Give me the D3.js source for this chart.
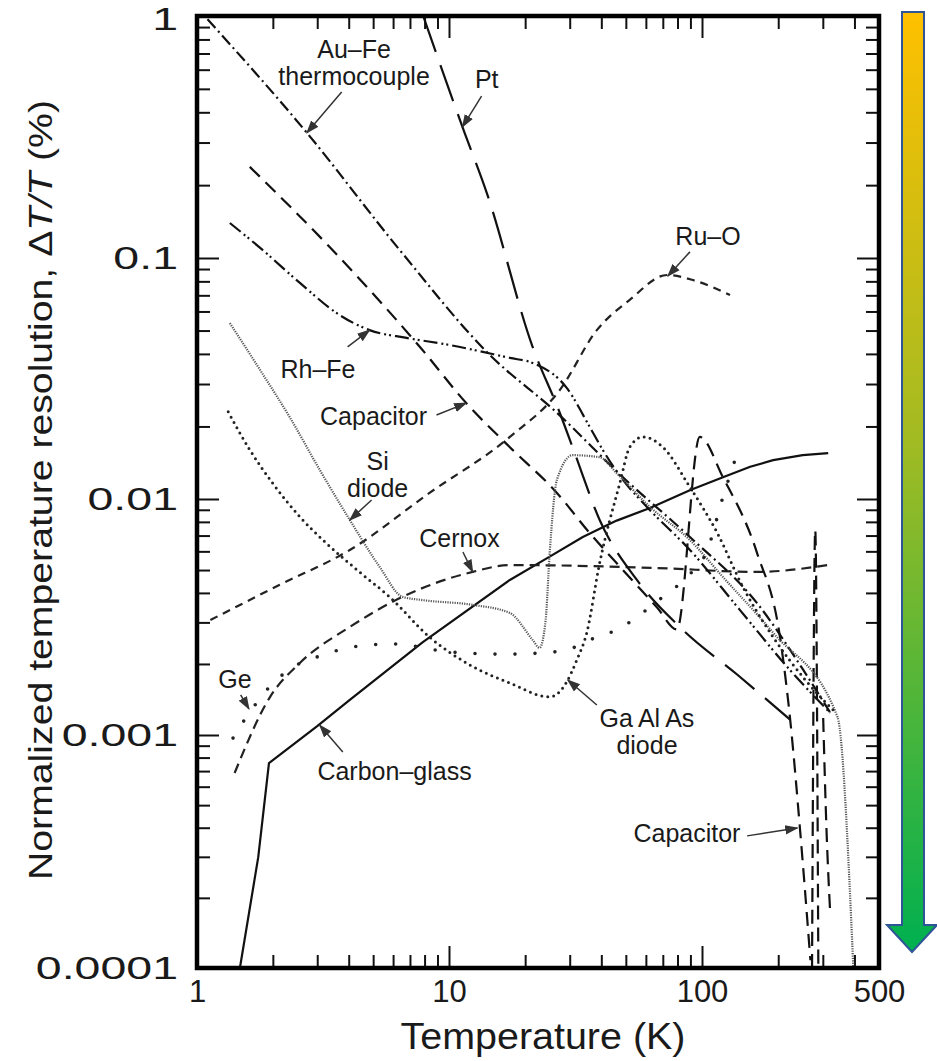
<!DOCTYPE html>
<html>
<head>
<meta charset="utf-8">
<script src="https://cdn.jsdelivr.net/npm/d3@7"></script>
<style>
  body { margin: 0; background: #fff; }
  svg text { font-family: "Liberation Sans", Arial, Helvetica, sans-serif; fill: #1a1a1a; }
</style>
</head>
<body>
<svg id="chart" width="937" height="1061"></svg>
<script>
// ---- data: [temperature K, dT/T %] ----
var auFe   = [[1.1,0.97],[2.73,0.329],[6.37,0.108],[14.5,0.0396],[26.7,0.0228],[48.7,0.0123],[89.6,0.0069],[165,0.00362],[250,0.0019],[320,0.00125]];
var rhFe   = [[1.35,0.1395],[1.82,0.108],[2.56,0.0788],[3.68,0.058],[4.84,0.0502],[6.79,0.0466],[10,0.0436],[17.4,0.0385],[21.4,0.0367],[29.2,0.0289],[36,0.0199],[40.5,0.016],[48.7,0.012],[60.6,0.00925],[89.6,0.00608],[141,0.00339],[223,0.00188],[321,0.00124]];
var pt     = [[7.9,1.0],[11.3,0.348],[14.1,0.186],[21.4,0.0428],[27.4,0.0228],[31.4,0.0155],[39.4,0.00815],[55.3,0.00454],[84,0.00279],[138,0.0018],[223,0.00116]];
var ruO    = [[1.13,0.00307],[2.13,0.00433],[4.04,0.00608],[8.37,0.0106],[17.4,0.0181],[27.4,0.0283],[38.4,0.0502],[51.8,0.067],[72.7,0.085],[92,0.081],[129,0.0702]];
var capLow = [[1.62,0.238],[3.36,0.111],[7.85,0.0415],[11.7,0.025],[17.4,0.0164],[26.7,0.0106],[36,0.00717],[48.7,0.005],[66.3,0.00348],[79.6,0.0028],[98,0.0181],[121,0.0123],[165,0.0059],[204,0.00253],[223,0.00116],[244,0.00039],[268,0.000108]];
var capHigh= [[272,0.0001],[280,0.0074],[288,0.0001]];
var capEnd = [[301,0.00118],[310,0.0004],[321,0.00017]];
var cernox = [[1.41,0.000687],[1.95,0.00145],[2.56,0.00202],[4.04,0.00287],[6.54,0.00385],[12.4,0.00491],[17.4,0.00525],[66.3,0.0051],[165,0.00491],[315,0.00525]];
var carbon = [[1.48,0.0001],[1.75,0.000299],[1.93,0.000758],[3.0,0.00109],[4.04,0.00141],[7.85,0.00247],[17.4,0.00454],[25,0.0057],[33.8,0.0069],[46,0.0081],[62.3,0.00916],[90,0.0109],[121,0.0123],[155,0.0136],[191,0.0145],[250,0.0152],[315,0.0155]];
var siDiode= [[1.35,0.0537],[1.78,0.0343],[2.33,0.0219],[3.07,0.0132],[4.04,0.00815],[5.31,0.00515],[6.54,0.00385],[7.85,0.00373],[12.4,0.00356],[17.4,0.00329],[21.4,0.00253],[22.8,0.00234],[24.1,0.00307],[25,0.0059],[26.7,0.012],[30.8,0.0152],[39.4,0.0149],[46,0.0128],[62.3,0.00925],[89.6,0.0067],[121,0.00467],[191,0.00271],[343,0.00119],[396,0.0001]];
var gaAlAs = [[1.33,0.023],[1.62,0.016],[2.0,0.0116],[2.56,0.0084],[3.16,0.0067],[4.42,0.0049],[5.81,0.00385],[8.37,0.0026],[12.1,0.00198],[17.4,0.00166],[25,0.00145],[29.2,0.00168],[32,0.00208],[35,0.0027],[39.4,0.00536],[47.3,0.0116],[51.8,0.0164],[58.4,0.0181],[70.1,0.0164],[89.6,0.0112],[115,0.00717],[145,0.00424],[191,0.0026],[256,0.00171],[336,0.00125]];
var ge     = [[1.39,0.00097],[1.52,0.00113],[1.7,0.00134],[1.89,0.00155],[2.13,0.00176],[2.49,0.00198],[2.99,0.00214],[4.15,0.00236],[5.97,0.00243],[10,0.00225],[16.9,0.0022],[28.2,0.00227],[36,0.00253],[46,0.00279],[70.1,0.00385],[87.2,0.00467],[105,0.00608],[121,0.0102],[135,0.0145]];

var xMajor = [1, 10, 100, 500];
var xMinor = [2,3,4,5,6,7,8,9,20,30,40,50,60,70,80,90,200,300,400];
var yMajor = [0.0001, 0.001, 0.01, 0.1, 1];
var yMinor = d3.range(-4, 0).flatMap(function(e){ return d3.range(2,10).map(function(m){ return m*Math.pow(10,e); }); });
var yLabels = ["0.0001","0.001","0.01","0.1","1"];

// annotation labels: text lines, anchor (T, value of first baseline), arrow [T0,v0,T1,v1]
var labels = [
  {lines:["Au\u2013Fe","thermocouple"], t:4.2,  v:0.671,    arrow:[3.75,0.485,2.73,0.329]},
  {lines:["Pt"],                        t:14.1, v:0.504,    arrow:[13.45,0.467,11.3,0.348]},
  {lines:["Ru\u2013O"],                 t:105.6,v:0.113,    arrow:[89.6,0.106,73.3,0.0842]},
  {lines:["Rh\u2013Fe"],                t:3.02, v:0.0318,   arrow:[3.96,0.0428,4.84,0.0502]},
  {lines:["Capacitor"],                 t:5.02, v:0.0203,   arrow:[8.92,0.0223,11.7,0.025]},
  {lines:["Si","diode"],                t:5.21, v:0.0132,   arrow:[4.93,0.0099,4.04,0.00815]},
  {lines:["Cernox"],                    t:11.0, v:0.00627,  arrow:[11.35,0.00596,12.4,0.00491]},
  {lines:["Ge"],                        t:1.415,v:0.00158,  arrow:[1.49,0.00148,1.607,0.00129]},
  {lines:["Carbon\u2013glass"],         t:6.08, v:0.000641, arrow:[3.79,0.000845,3.07,0.0011]},
  {lines:["Ga\u2009Al\u2009As","diode"],t:60.6, v:0.00108,  arrow:[38.4,0.00134,29.5,0.00171]},
  {lines:["Capacitor"],                 t:87.2, v:0.000347, arrow:[150.7,0.000369,238,0.000399]}
];

// ---- layout ----
var svg = d3.select('#chart');
var x = d3.scaleLog().domain([1,10,100,500]).range([197,449,702,879]);
var y = d3.scaleLog().domain([0.0001,0.001,0.01,0.1,1]).range([968,735,499,258,16]);

var defs = svg.append('defs');
defs.append('clipPath').attr('id','plot')
  .append('rect').attr('x',197).attr('y',16).attr('width',682).attr('height',952);
defs.append('marker').attr('id','head')
  .attr('viewBox','0 0 10 10').attr('refX',9).attr('refY',5)
  .attr('markerWidth',9).attr('markerHeight',9).attr('orient','auto')
  .append('path').attr('d','M0,1.5L10,5L0,8.5Z').attr('fill','#333');
var grad = defs.append('linearGradient').attr('id','arrowGrad')
  .attr('x1',0).attr('y1',0).attr('x2',0).attr('y2',1);
grad.append('stop').attr('offset','0%').attr('stop-color','#ffc000');
grad.append('stop').attr('offset','45%').attr('stop-color','#a3bb22');
grad.append('stop').attr('offset','100%').attr('stop-color','#00b050');

// ticks on all four sides, pointing inwards
function tickAxis(axis, vals, size, tr, fmt, pad){
  var g = svg.append('g').attr('transform',tr)
    .call(axis.tickValues(vals).tickSize(size).tickSizeOuter(0).tickPadding(pad||3).tickFormat(fmt||''));
  g.select('.domain').remove();
  g.selectAll('.tick line').attr('stroke','#111').attr('stroke-width',2);
  return g;
}
var xb = tickAxis(d3.axisBottom(x), xMajor, -22, 'translate(0,968)', d3.format('d'), 12);
tickAxis(d3.axisBottom(x), xMinor, -13, 'translate(0,968)');
tickAxis(d3.axisTop(x), xMajor, -22, 'translate(0,16)');
tickAxis(d3.axisTop(x), xMinor, -13, 'translate(0,16)');
var yl = tickAxis(d3.axisLeft(y), yMajor, -22, 'translate(197,0)', function(d,i){ return yLabels[i]; }, 18);
tickAxis(d3.axisLeft(y), yMinor, -13, 'translate(197,0)');
tickAxis(d3.axisRight(y), yMajor, -22, 'translate(879,0)');
tickAxis(d3.axisRight(y), yMinor, -13, 'translate(879,0)');
xb.selectAll('text').attr('font-size',31).attr('fill','#1a1a1a').style('font-family','"Liberation Sans", Arial, sans-serif');
// the y tick labels in the figure are set in a wide face: stretch them sideways
yl.selectAll('text').attr('font-size',31).attr('fill','#1a1a1a').style('font-family','"Liberation Sans", Arial, sans-serif')
  .attr('x',0).attr('dy','0.35em')
  .attr('transform',function(d){ return 'translate(-19,' + (d === 1 ? 3 : 0) + ') scale(1.5,1)'; });

// curves
var smooth = d3.line().x(function(d){ return x(d[0]); }).y(function(d){ return y(d[1]); }).curve(d3.curveMonotoneX);
var sharp  = d3.line().x(function(d){ return x(d[0]); }).y(function(d){ return y(d[1]); });
var series = [
  {data:carbon,  dash:null,          w:2.2, c:'#111', cap:'butt', gen:sharp},
  {data:cernox,  dash:'10,6',        w:2.2, c:'#222', cap:'butt'},
  {data:ruO,     dash:'8,6',         w:2.2, c:'#222', cap:'butt'},
  {data:capLow,  dash:'14,8',        w:2.2, c:'#111', cap:'butt'},
  {data:capHigh, dash:'14,8',        w:2.2, c:'#111', cap:'butt'},
  {data:capEnd,  dash:'14,8',        w:2.2, c:'#111', cap:'butt'},
  {data:pt,      dash:'38,14',       w:2.2, c:'#111', cap:'butt'},
  {data:auFe,    dash:'12,4,2,4',    w:2.2, c:'#111', cap:'butt'},
  {data:rhFe,    dash:'14,4,2,3,2,4',w:2.2, c:'#111', cap:'butt'},
  {data:siDiode, dash:'1.2,1.2',     w:2.2, c:'#555', cap:'butt'},
  {data:gaAlAs,  dash:'0,6',         w:3,   c:'#222', cap:'round'},
  {data:ge,      dash:'0,20',        w:3.6, c:'#222', cap:'round'}
];
svg.append('g').attr('clip-path','url(#plot)')
  .selectAll('path').data(series).enter().append('path')
  .attr('d',function(s){ return (s.gen || smooth)(s.data); })
  .attr('fill','none')
  .attr('stroke',function(s){ return s.c; })
  .attr('stroke-width',function(s){ return s.w; })
  .attr('stroke-linecap',function(s){ return s.cap; })
  .attr('stroke-linejoin','round')
  .attr('stroke-dasharray',function(s){ return s.dash; });

// annotations
var ann = svg.append('g');
labels.forEach(function(l){
  var t = ann.append('text').attr('text-anchor','middle').attr('font-size',25)
    .attr('x',x(l.t)).attr('y',y(l.v));
  l.lines.forEach(function(s,i){
    t.append('tspan').attr('x',x(l.t)).attr('dy',i ? 27 : 0).text(s);
  });
  ann.append('line')
    .attr('x1',x(l.arrow[0])).attr('y1',y(l.arrow[1]))
    .attr('x2',x(l.arrow[2])).attr('y2',y(l.arrow[3]))
    .attr('stroke','#333').attr('stroke-width',1.5).attr('marker-end','url(#head)');
});

// frame
svg.append('rect').attr('x',197).attr('y',16).attr('width',682).attr('height',952)
  .attr('fill','none').attr('stroke','#000').attr('stroke-width',4.5);

// axis titles
svg.append('text').attr('x',543).attr('y',1049).attr('text-anchor','middle')
  .attr('font-size',36).attr('textLength',285).attr('lengthAdjust','spacingAndGlyphs')
  .text('Temperature (K)');
var yt = svg.append('text').attr('transform','translate(52,490) rotate(-90)')
  .attr('text-anchor','middle').attr('font-size',33)
  .attr('textLength',780).attr('lengthAdjust','spacingAndGlyphs');
yt.append('tspan').text('Normalized temperature resolution, \u0394');
yt.append('tspan').attr('font-style','italic').text('T/T');
yt.append('tspan').text(' (%)');

// decorative gradient arrow on the right
var aw = 22, hx0 = 887, hx1 = 937, sx = 902;
svg.append('path')
  .attr('d','M'+sx+',12 L'+(sx+aw)+',12 L'+(sx+aw)+',925 L'+hx1+',925 L'+((hx0+hx1)/2)+',952 L'+hx0+',925 L'+sx+',925 Z')
  .attr('fill','url(#arrowGrad)').attr('stroke','#2f5597').attr('stroke-width',2);
</script>
</body>
</html>
